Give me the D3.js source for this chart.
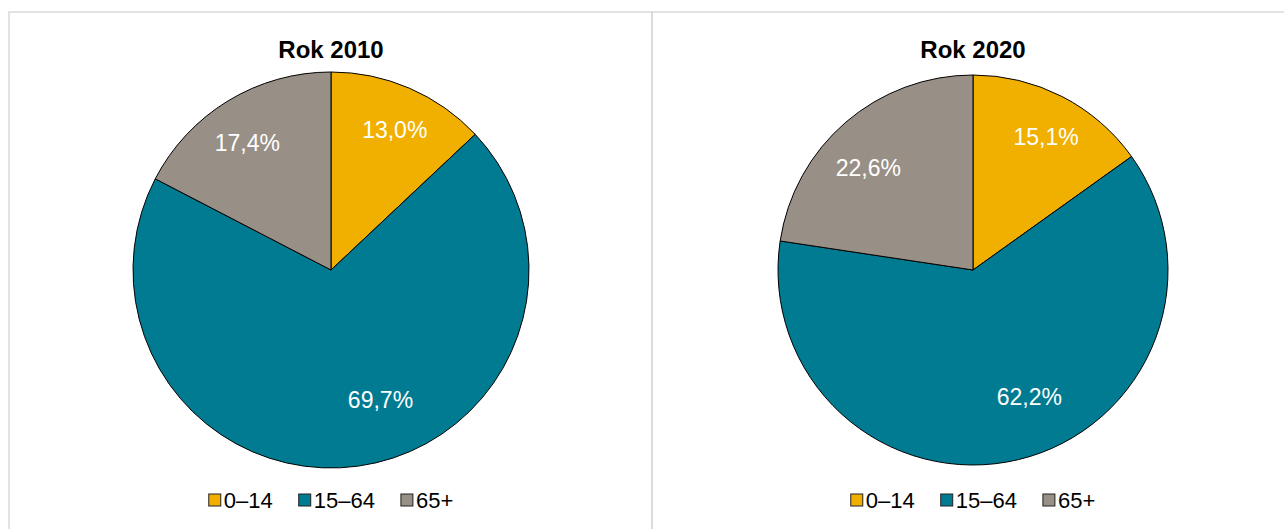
<!DOCTYPE html>
<html>
<head>
<meta charset="utf-8">
<script src="https://cdn.jsdelivr.net/npm/d3@7"></script>
<style>
  html, body { margin: 0; padding: 0; background: #fff; }
  svg { display: block; font-family: "Liberation Sans", Arial, sans-serif; }
</style>
</head>
<body>
<div id="chart"></div>
<script>
const categories = ["0–14", "15–64", "65+"];
const years = ["Rok 2010", "Rok 2020"];
const values2010 = [13.0, 69.7, 17.4];
const values2020 = [15.1, 62.2, 22.6];

const width = 1284;
const height = 529;
const fmt = v => d3.format(".1f")(v).replace(".", ",") + "%";

const color = d3.scaleOrdinal()
    .domain(categories)
    .range(["#f1b000", "#007b91", "#988f86"]);

// panel layout; label tweaks (deg, radius factor) mimic Excel's best-fit placement
const panels = [
    { title: years[0], values: values2010, cx: 331, cy: 270, r: 198, x: 9, w: 643,
      shift: [1, -13, -2], k: [0.78, 0.70, 0.77] },
    { title: years[1], values: values2020, cx: 973, cy: 270, r: 195, x: 652, w: 700,
      shift: [1.5, -10.5, -5], k: [0.78, 0.71, 0.75] }
];

const svg = d3.select("#chart").append("svg")
    .attr("width", width)
    .attr("height", height);

const pie = d3.pie().sort(null).value(d => d.value);

panels.forEach(p => {
    svg.append("rect")
        .attr("x", p.x).attr("y", 12)
        .attr("width", p.w).attr("height", 600)
        .attr("fill", "none")
        .attr("stroke", "#d9d9d9")
        .attr("stroke-width", 1.5);

    const g = svg.append("g").attr("transform", `translate(${p.cx},${p.cy})`);

    svg.append("text")
        .attr("x", p.cx).attr("y", 58)
        .attr("text-anchor", "middle")
        .attr("font-weight", "bold")
        .attr("font-size", 24)
        .text(p.title);

    const rows = categories.map((c, i) => ({ cat: c, value: p.values[i] }));
    const arcs = pie(rows);
    const arc = d3.arc().innerRadius(0).outerRadius(p.r);

    g.selectAll("path")
        .data(arcs)
        .join("path")
        .attr("d", arc)
        .attr("fill", d => color(d.data.cat))
        .attr("stroke", "#000")
        .attr("stroke-width", 1);

    g.selectAll("text.lbl")
        .data(arcs)
        .join("text")
        .attr("class", "lbl")
        .attr("transform", (d, i) => {
            const a = (d.startAngle + d.endAngle) / 2 + p.shift[i] * Math.PI / 180;
            const rr = p.r * p.k[i];
            return `translate(${Math.sin(a) * rr},${-Math.cos(a) * rr})`;
        })
        .attr("text-anchor", "middle")
        .attr("dy", "0.36em")
        .attr("font-size", 23)
        .attr("fill", "#fff")
        .text(d => fmt(d.data.value));

    // legend
    const lg = svg.append("g").attr("transform", `translate(0,500)`);
    const items = lg.selectAll("g")
        .data(categories)
        .join("g");
    items.append("rect")
        .attr("y", -6).attr("width", 12).attr("height", 12)
        .attr("fill", d => color(d))
        .attr("stroke", "#222")
        .attr("stroke-width", 1);
    items.append("text")
        .attr("x", 15)
        .attr("dy", "0.36em")
        .attr("font-size", 22)
        .text(d => d);
    let xs = 0;
    const pos = [];
    items.each(function() {
        const w = d3.select(this).select("text").node().getComputedTextLength() + 15;
        pos.push(xs);
        xs += w + 26;
    });
    const total = xs - 26;
    const x0 = p.cx - total / 2;
    items.attr("transform", (d, i) => `translate(${x0 + pos[i]},0)`);
});
</script>
</body>
</html>
